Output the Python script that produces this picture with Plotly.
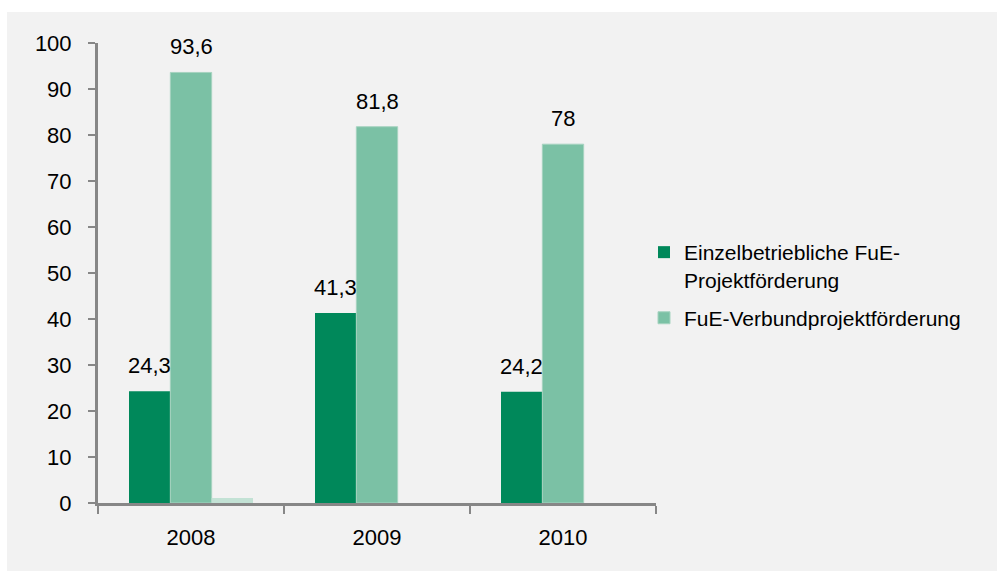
import plotly.graph_objects as go

# Förderung nach Jahr (Mio. EUR)
years = ["2008", "2009", "2010"]
einzel = [24.3, 41.3, 24.2]
verbund = [93.6, 81.8, 78]
sonstige = [1.1, None, None]

name_einzel = "Einzelbetriebliche FuE-<br>Projektförderung"
name_verbund = "FuE-Verbundprojektförderung"

y_ticks = list(range(0, 101, 10))

c_dark = "#00885a"
c_light = "#7bc1a5"
c_pale = "#c3e2d5"
axis_grey = "#878787"
font_family = "Liberation Sans, Arial, sans-serif"
fs = 22
fs_legend = 21

# plot area in pixels
W, H = 997, 571
ml, mr, mt, mb = 98, 341, 43, 68
pw, ph = W - ml - mr, H - mt - mb

fig = go.Figure()
fig.add_trace(go.Bar(x=years, y=einzel, name=name_einzel, legendgroup="a",
                     marker=dict(color=c_dark, line=dict(width=0))))
fig.add_trace(go.Bar(x=years, y=verbund, name=name_verbund, legendgroup="b",
                     marker=dict(color=c_light, line=dict(color="#a6d3c0", width=1))))
fig.add_trace(go.Bar(x=years, y=sonstige, name="Sonstige", showlegend=False,
                     marker=dict(color=c_pale, line=dict(width=0))))

# value labels above the first two series
bargap = 1 / 3
n_series = 3
bw = (1 - bargap) / n_series
annotations = []
for k, series in enumerate([einzel, verbund]):
    off = (k - (n_series - 1) / 2) * bw
    for i, v in enumerate(series):
        annotations.append(dict(
            x=i + off, y=v, xref="x", yref="y",
            text=f"{v:g}".replace(".", ","),
            showarrow=False, yanchor="bottom", xanchor="center", yshift=11,
            font=dict(family=font_family, size=fs, color="#000000"),
        ))

# grey card behind the chart
shapes = [dict(
    type="rect", xref="paper", yref="paper", layer="below",
    x0=(7 - ml) / pw, x1=(W + 5 - ml) / pw,
    y0=-(mb + 5) / ph, y1=(ph + mt - 12) / ph,
    fillcolor="#f2f2f2", line=dict(width=0),
)]

fig.update_layout(
    width=W, height=H,
    margin=dict(l=ml, r=mr, t=mt, b=mb, autoexpand=False),
    paper_bgcolor="#ffffff",
    plot_bgcolor="rgba(0,0,0,0)",
    barmode="group", bargap=bargap, bargroupgap=0,
    font=dict(family=font_family, size=fs, color="#000000"),
    shapes=shapes,
    annotations=annotations,
    legend=dict(
        x=(644 - ml) / pw, xanchor="left",
        y=(mt + ph - 232) / ph, yanchor="top",
        valign="top",
        traceorder="grouped", tracegroupgap=8,
        bgcolor="rgba(0,0,0,0)",
        font=dict(family=font_family, size=fs_legend, color="#000000"),
        itemwidth=30,
    ),
    xaxis=dict(
        type="category", range=[-0.5, 2.5],
        showline=True, linecolor=axis_grey, linewidth=3,
        ticks="outside", tickson="boundaries", ticklen=8, tickwidth=2, tickcolor=axis_grey,
        ticklabelstandoff=13,
        showgrid=False, zeroline=False,
        tickfont=dict(family=font_family, size=fs, color="#000000"),
    ),
    yaxis=dict(
        range=[0, 100], tickvals=y_ticks,
        showline=True, linecolor=axis_grey, linewidth=3,
        ticks="outside", ticklen=7, tickwidth=2, tickcolor=axis_grey,
        ticklabelstandoff=12,
        showgrid=False, zeroline=False,
        tickfont=dict(family=font_family, size=fs, color="#000000"),
    ),
)

fig.write_html("out.html")
